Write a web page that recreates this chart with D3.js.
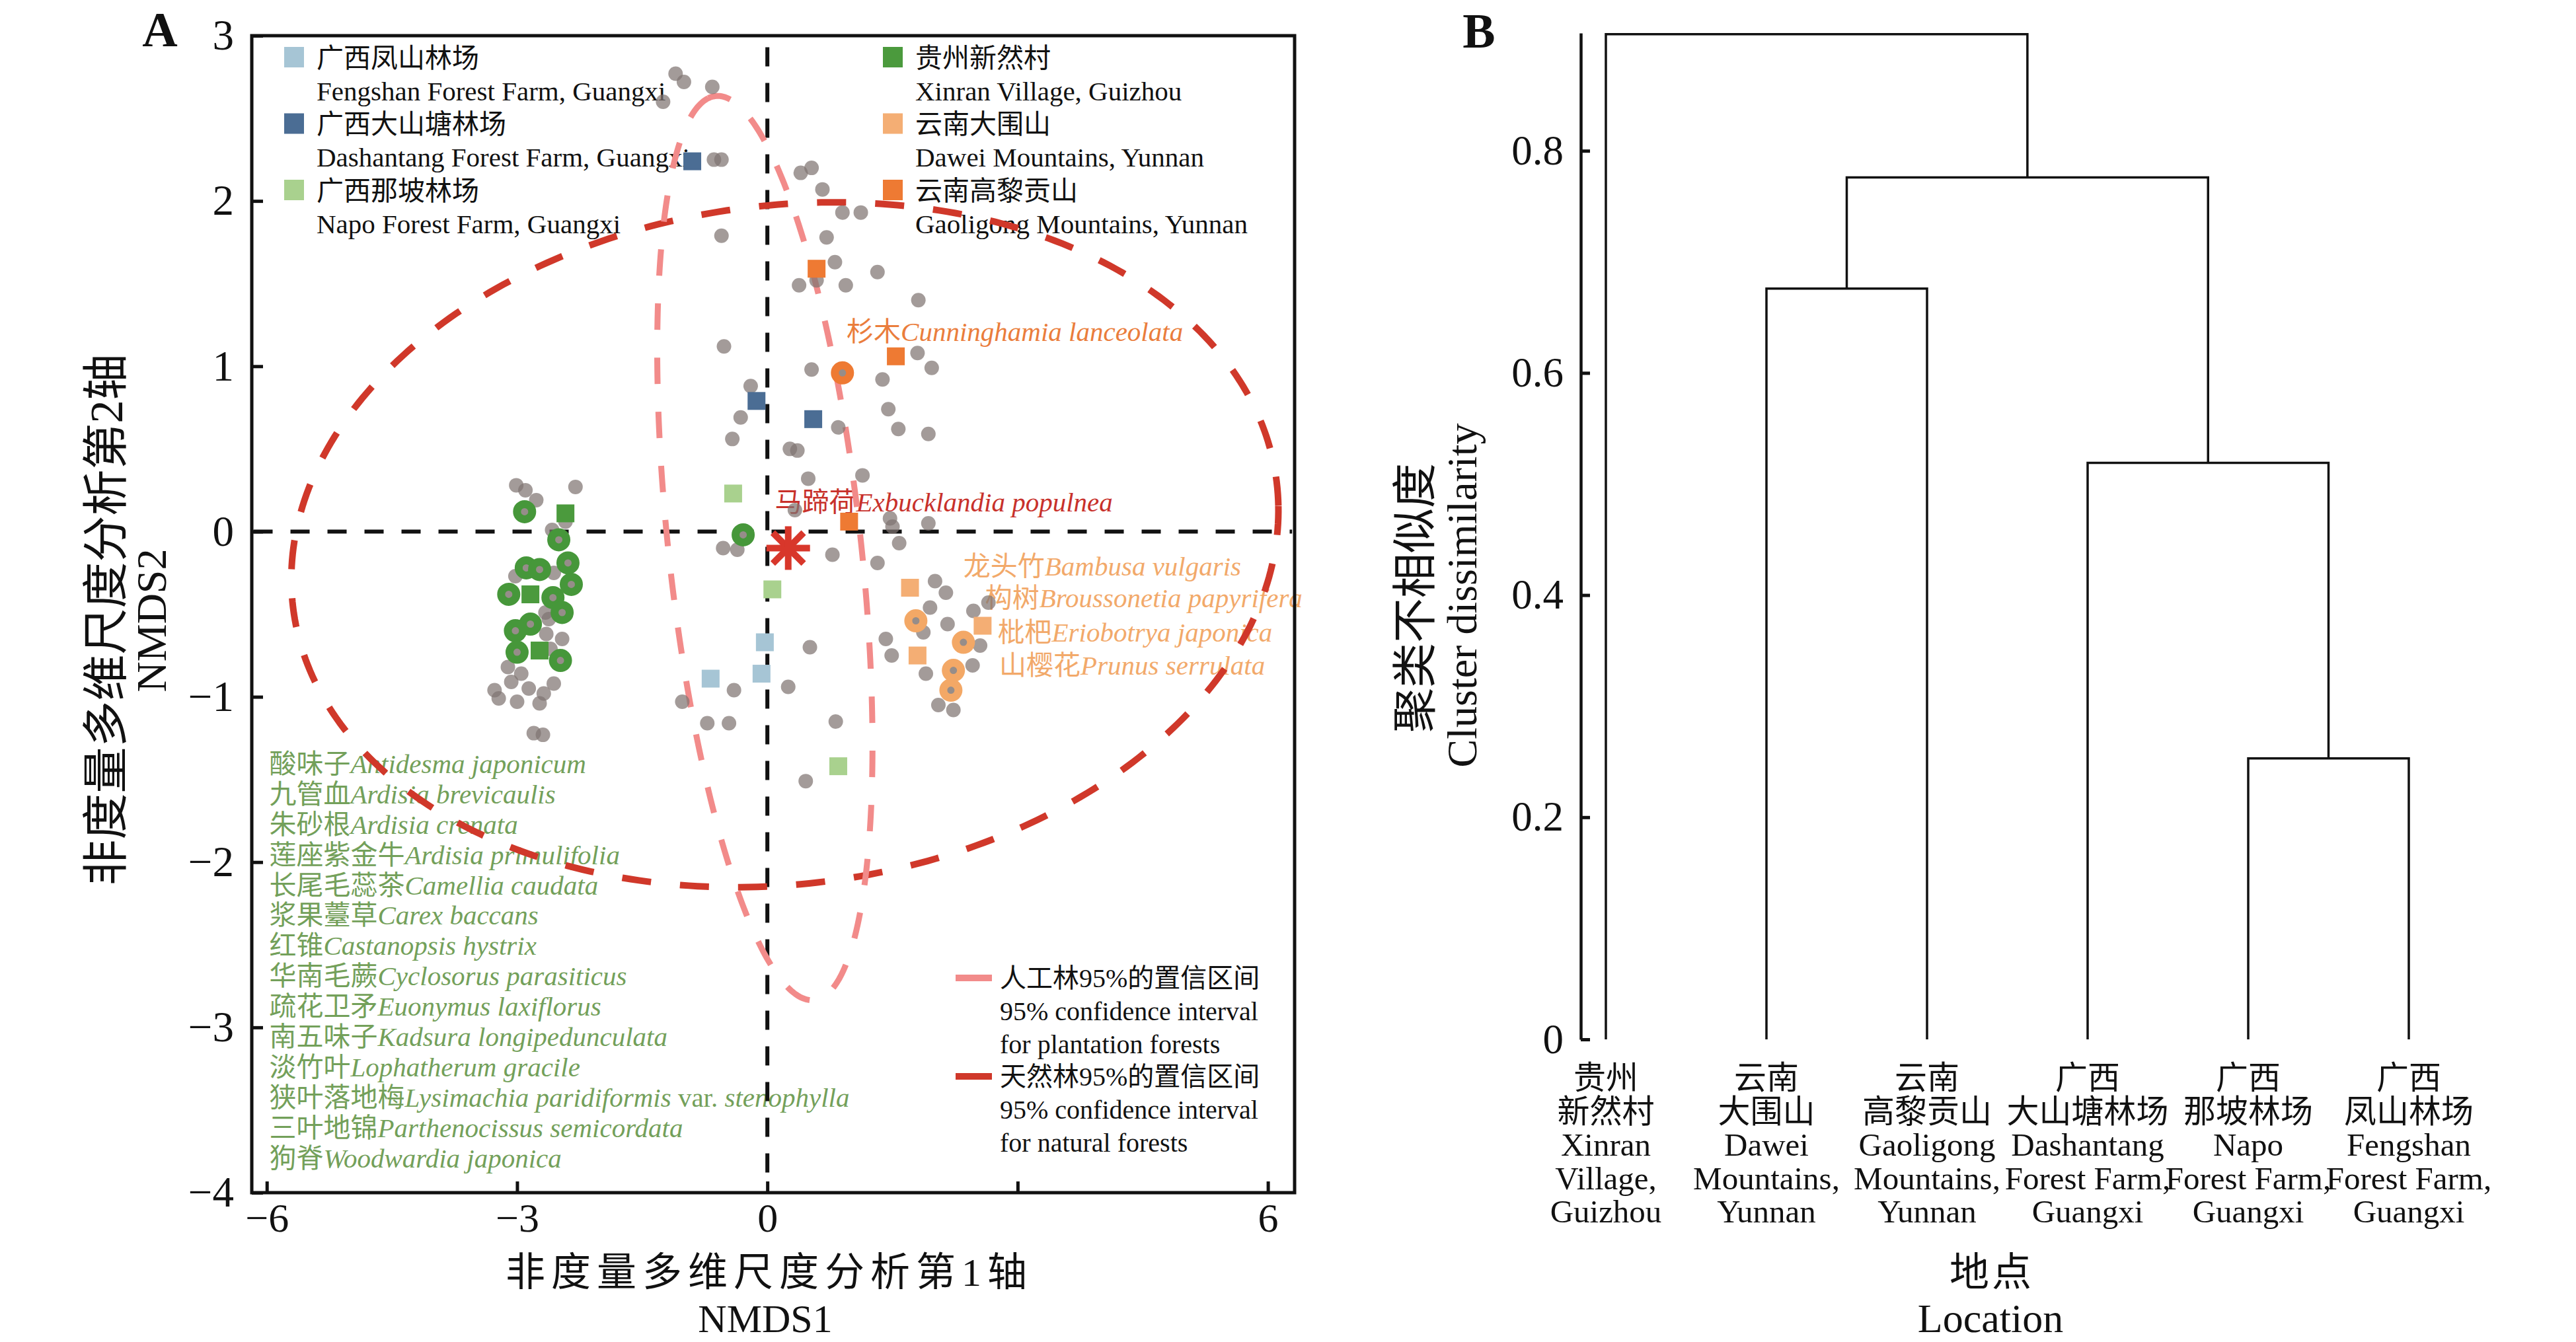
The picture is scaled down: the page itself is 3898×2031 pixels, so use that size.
<!DOCTYPE html>
<html lang="zh">
<head>
<meta charset="UTF-8">
<title>NMDS and cluster dendrogram</title>
<script src="https://cdn.jsdelivr.net/npm/d3@7/dist/d3.min.js"></script>
<style>
    body { margin: 0; padding: 0; background: #fff; }
    svg { display: block; }
    text { font-family: 'Liberation Serif', 'Times New Roman', 'Noto Sans CJK SC', serif; fill: #111; }
</style>
</head>
<body>
<script>
// ---------- data: panel A (NMDS) ----------
const sites = ["广西凤山林场", "广西大山塘林场", "广西那坡林场", "贵州新然村", "云南大围山", "云南高黎贡山"];
const sitesEn = ["Fengshan Forest Farm, Guangxi", "Dashantang Forest Farm, Guangxi", "Napo Forest Farm, Guangxi",
                 "Xinran Village, Guizhou", "Dawei Mountains, Yunnan", "Gaoligong Mountains, Yunnan"];
const siteColors = ["#a6c5d5", "#4b6d94", "#a9d18e", "#4b9a3d", "#f4ae74", "#ee7a33"];

// sample (site) scores, one list per site, same order as sites
const fengshanPts = [[-0.03, -0.67], [-0.07, -0.86], [-0.68, -0.89]];
const dashantangPts = [[-0.90, 2.24], [-0.13, 0.79], [0.55, 0.68]];
const napoPts = [[-0.41, 0.23], [0.06, -0.35], [0.85, -1.42]];
const xinranPts = [[-2.42, 0.11], [-2.84, -0.38], [-2.73, -0.72]];
const daweiPts = [[1.71, -0.34], [2.58, -0.57], [1.80, -0.75]];
const gaoligongPts = [[0.59, 1.59], [1.54, 1.06], [0.98, 0.06]];
const sitePts = [fengshanPts, dashantangPts, napoPts, xinranPts, daweiPts, gaoligongPts];

// species scores
const speciesPts = [
    [-3.01, 0.28], [-2.90, 0.25], [-2.77, 0.19], [-2.30, 0.27], [-2.42, 0.06], [-2.58, 0.01],
    [-3.02, -0.27], [-2.56, -0.25], [-2.66, -0.49], [-2.62, -0.53], [-2.65, -0.62], [-2.46, -0.65],
    [-2.60, -0.71], [-3.11, -0.82], [-2.95, -0.86], [-3.07, -0.91], [-3.27, -0.96], [-3.22, -1.01],
    [-3.00, -1.03], [-2.86, -0.95], [-2.56, -0.92], [-2.68, -0.98], [-2.73, -1.04], [-2.80, -1.22],
    [-2.69, -1.23],
    [-1.10, 2.77], [-1.00, 2.72], [-0.66, 2.69], [-1.25, 2.60], [-0.64, 2.25], [-0.55, 2.25],
    [0.40, 2.17], [0.53, 2.20], [0.66, 2.07], [0.90, 1.93], [1.12, 1.93], [-0.55, 1.79],
    [0.71, 1.78], [0.81, 1.63], [1.32, 1.57], [0.38, 1.49], [0.59, 1.52], [0.94, 1.49],
    [1.81, 1.40], [-0.52, 1.12], [0.53, 0.98], [1.38, 0.92], [1.80, 1.08], [1.97, 0.99],
    [-0.20, 0.88], [-0.32, 0.69], [1.45, 0.74], [0.85, 0.63], [1.57, 0.62], [1.93, 0.59],
    [-0.42, 0.56], [0.27, 0.50], [0.36, 0.49],
    [0.49, 0.32], [1.14, 0.34], [0.33, 0.13], [1.47, 0.08], [1.50, 0.03], [1.93, 0.05],
    [1.58, -0.07], [0.78, -0.14], [1.32, -0.19], [2.01, -0.30], [2.14, -0.37], [1.95, -0.46],
    [2.47, -0.48], [2.65, -0.43], [2.16, -0.56], [1.87, -0.61], [1.42, -0.65], [2.55, -0.69],
    [1.49, -0.75], [2.46, -0.81], [1.90, -0.86], [0.51, -0.70], [-0.40, -0.96], [0.25, -0.94],
    [2.05, -1.05], [2.23, -1.08], [0.82, -1.15], [-0.46, -1.16], [0.46, -1.51], [-0.53, -0.10],
    [-0.36, -0.11], [-1.02, -1.03], [-0.72, -1.16]
];
// indicator species (ringed)
const guizhouIndicators = [
    [-2.91, 0.12], [-2.50, -0.05], [-2.89, -0.22], [-2.73, -0.23], [-2.39, -0.19], [-2.35, -0.32],
    [-3.10, -0.38], [-2.57, -0.40], [-2.46, -0.49], [-2.84, -0.56], [-3.02, -0.60], [-3.00, -0.73],
    [-2.48, -0.78], [-0.29, -0.02]
];
const daweiIndicators = [[1.78, -0.54], [2.35, -0.67], [2.23, -0.84], [2.20, -0.96]];
const gaoligongIndicators = [[0.90, 0.96]];
const mixedIndicator = [[0.25, -0.10]];

// 95% confidence ellipses: centre, semi-axes, rotation (rad)
const plantationEllipse = { cx: -0.03, cy: -0.10, a: 2.805, b: 1.131, rot: 1.815 };
const naturalEllipse = { cx: 0.21, cy: -0.08, a: 5.92, b: 2.06, rot: 0.04 };

const guizhouSpecies = [
    ["酸味子", ["Antidesma japonicum"]],
    ["九管血", ["Ardisia brevicaulis"]],
    ["朱砂根", ["Ardisia crenata"]],
    ["莲座紫金牛", ["Ardisia primulifolia"]],
    ["长尾毛蕊茶", ["Camellia caudata"]],
    ["浆果薹草", ["Carex baccans"]],
    ["红锥", ["Castanopsis hystrix"]],
    ["华南毛蕨", ["Cyclosorus parasiticus"]],
    ["疏花卫矛", ["Euonymus laxiflorus"]],
    ["南五味子", ["Kadsura longipedunculata"]],
    ["淡竹叶", ["Lophatherum gracile"]],
    ["狭叶落地梅", ["Lysimachia paridiformis ", "var. ", "stenophylla"]],
    ["三叶地锦", ["Parthenocissus semicordata"]],
    ["狗脊", ["Woodwardia japonica"]]
];
const daweiSpecies = [
    ["龙头竹", ["Bambusa vulgaris"]],
    ["构树", ["Broussonetia papyrifera"]],
    ["枇杷", ["Eriobotrya japonica"]],
    ["山樱花", ["Prunus serrulata"]]
];
const xTicksA = [-6, -3, 0, 3, 6];
const xTickLabelsA = ["−6", "−3", "0", "", "6"];
const yTicksA = [-4, -3, -2, -1, 0, 1, 2, 3];

// ---------- data: panel B (dendrogram) ----------
const leafLabels = [
    ["贵州", "新然村", "Xinran", "Village,", "Guizhou"],
    ["云南", "大围山", "Dawei", "Mountains,", "Yunnan"],
    ["云南", "高黎贡山", "Gaoligong", "Mountains,", "Yunnan"],
    ["广西", "大山塘林场", "Dashantang", "Forest Farm,", "Guangxi"],
    ["广西", "那坡林场", "Napo", "Forest Farm,", "Guangxi"],
    ["广西", "凤山林场", "Fengshan", "Forest Farm,", "Guangxi"]
];
// hclust-style merge table (negative = leaf, positive = earlier merge)
const merges = [[-5, -6], [-4, 1], [-2, -3], [3, 2], [-1, 4]];
const mergeHeights = [0.253, 0.519, 0.676, 0.776, 0.905];
const yTicksB = [0, 0.2, 0.4, 0.6, 0.8];

// ---------- drawing ----------
const W = 3898, H = 2031;
const svg = d3.select("body").append("svg")
    .attr("width", W).attr("height", H).attr("viewBox", `0 0 ${W} ${H}`);

const x = d3.scaleLinear().domain([-6.18, 6.32]).range([381, 1959]);
const y = d3.scaleLinear().domain([-4, 3]).range([1805, 54]);

const gA = svg.append("g");

// site legend
const legendCols = [430, 1336];
sites.forEach((s, i) => {
    const col = Math.floor(i / 3), row = i % 3;
    const lx = legendCols[col], ly = 87 + row * 100.5;
    gA.append("rect").attr("x", lx).attr("y", ly - 16).attr("width", 30).attr("height", 31)
        .attr("fill", siteColors[i]);
    gA.append("text").attr("x", lx + 49).attr("y", ly).attr("dy", "0.36em")
        .style("font-size", "41px").text(s);
    gA.append("text").attr("x", lx + 49).attr("y", ly + 51).attr("dy", "0.34em")
        .style("font-size", "41px").text(sitesEn[i]);
});

// species annotation labels
function speciesLabel(g, zh, latin, px, py, color) {
    const t = g.append("text").attr("x", px).attr("y", py).attr("dy", "0.35em")
        .style("font-size", "41px").style("fill", color);
    t.append("tspan").text(zh).style("fill", color);
    latin.forEach(part => {
        t.append("tspan").text(part).style("fill", color)
            .style("font-style", part.trim() === "var." ? "normal" : "italic");
    });
}
guizhouSpecies.forEach((d, i) => {
    speciesLabel(gA, d[0], d[1], x(-5.97), y(-1.404 - i * 0.1835), "#73a05a");
});
const daweiLabelX = [2.35, 2.61, 2.76, 2.78];
const daweiLabelY = [-0.21, -0.40, -0.61, -0.81];
daweiSpecies.forEach((d, i) => {
    speciesLabel(gA, d[0], d[1], x(daweiLabelX[i]), y(daweiLabelY[i]), "#f2a96a");
});
speciesLabel(gA, "杉木", ["Cunninghamia lanceolata"], x(0.95), y(1.21), "#ea7d3c");
speciesLabel(gA, "马蹄荷", ["Exbucklandia populnea"], x(0.09), y(0.18), "#c8312b");

// zero reference lines
gA.append("line").attr("x1", x(0)).attr("x2", x(0)).attr("y1", y(2.93)).attr("y2", y(-3.93))
    .attr("stroke", "#111").attr("stroke-width", 6).attr("stroke-dasharray", "29,25");
gA.append("line").attr("x1", x(-6.16)).attr("x2", x(6.29)).attr("y1", y(0)).attr("y2", y(0))
    .attr("stroke", "#111").attr("stroke-width", 6).attr("stroke-dasharray", "29,27");

// ellipses
function ellipsePoints(e) {
    const pts = [];
    for (let i = 0; i <= 360; i++) {
        const t = i / 360 * 2 * Math.PI;
        const ex = e.a * Math.cos(t), ey = e.b * Math.sin(t);
        pts.push([e.cx + ex * Math.cos(e.rot) - ey * Math.sin(e.rot),
                  e.cy + ex * Math.sin(e.rot) + ey * Math.cos(e.rot)]);
    }
    return pts;
}
const eline = d3.line().x(d => x(d[0])).y(d => y(d[1]));
gA.append("path").attr("d", eline(ellipsePoints(naturalEllipse)))
    .attr("fill", "none").attr("stroke", "#d0382a").attr("stroke-width", 10)
    .attr("stroke-dasharray", "44,44");
gA.append("path").attr("d", eline(ellipsePoints(plantationEllipse)))
    .attr("fill", "none").attr("stroke", "#f28b8a").attr("stroke-width", 9)
    .attr("stroke-dasharray", "40,42");

// species points
gA.selectAll(".sp").data(speciesPts).enter().append("circle")
    .attr("class", "sp")
    .attr("cx", d => x(d[0])).attr("cy", d => y(d[1])).attr("r", 11)
    .attr("fill", "#7f7571").attr("opacity", 0.72);

// site squares
sitePts.forEach((pts, i) => {
    gA.selectAll(".sq" + i).data(pts).enter().append("rect")
        .attr("class", "sq" + i)
        .attr("x", d => x(d[0]) - 13.5).attr("y", d => y(d[1]) - 13.5)
        .attr("width", 27).attr("height", 27)
        .attr("fill", siteColors[i]);
});

// indicator rings
function rings(pts, color) {
    gA.selectAll(null).data(pts).enter().append("circle")
        .attr("cx", d => x(d[0])).attr("cy", d => y(d[1])).attr("r", 11.5)
        .attr("fill", "#968d89").attr("stroke", color).attr("stroke-width", 12);
}
rings(guizhouIndicators, "#46973a");
rings(daweiIndicators, "#f3a866");
rings(gaoligongIndicators, "#ee7a33");

// asterisk marker
mixedIndicator.forEach(d => {
    const cx = x(d[0]), cy = y(d[1]);
    [0, 45, 90, 135].forEach(a => {
        const r = 33, rad = a * Math.PI / 180;
        gA.append("line")
            .attr("x1", cx - r * Math.cos(rad)).attr("y1", cy - r * Math.sin(rad))
            .attr("x2", cx + r * Math.cos(rad)).attr("y2", cy + r * Math.sin(rad))
            .attr("stroke", "#d8372b").attr("stroke-width", 10);
    });
});

// ellipse legend
const ellLegend = [
    { color: "#f28b8a", lines: ["人工林95%的置信区间", "95% confidence interval", "for plantation forests"] },
    { color: "#d0382a", lines: ["天然林95%的置信区间", "95% confidence interval", "for natural forests"] }
];
ellLegend.forEach((e, i) => {
    const ly = 1480 + i * 149;
    gA.append("line").attr("x1", 1446).attr("x2", 1501).attr("y1", ly).attr("y2", ly)
        .attr("stroke", e.color).attr("stroke-width", 10);
    e.lines.forEach((t, j) => {
        gA.append("text").attr("x", 1513).attr("y", ly + j * 50).attr("dy", "0.35em")
            .style("font-size", "40px").text(t);
    });
});

// axes A
const axL = gA.append("g").attr("transform", `translate(${x.range()[0]},0)`)
    .call(d3.axisLeft(y).tickValues(yTicksA).tickSizeInner(-17).tickSizeOuter(0).tickPadding(27)
        .tickFormat(d => d < 0 ? "−" + Math.abs(d) : String(d)));
const axB = gA.append("g").attr("transform", `translate(0,${y.range()[0]})`)
    .call(d3.axisBottom(x).tickValues(xTicksA).tickSizeInner(-17).tickSizeOuter(0).tickPadding(15)
        .tickFormat((d, i) => xTickLabelsA[i]));
[axL, axB].forEach(a => {
    a.select(".domain").remove();
    a.selectAll(".tick line").attr("stroke", "#111").attr("stroke-width", 5);
    a.selectAll(".tick text").style("font-size", "65px")
        .style("font-family", "'Liberation Serif', serif").attr("fill", "#111");
});
axB.selectAll(".tick text").style("font-size", "62px");
gA.append("rect").attr("x", x.range()[0]).attr("y", y.range()[1])
    .attr("width", x.range()[1] - x.range()[0]).attr("height", y.range()[0] - y.range()[1])
    .attr("fill", "none").attr("stroke", "#111").attr("stroke-width", 5);

// titles A
gA.append("text").attr("x", 1164).attr("y", 1946).attr("text-anchor", "middle")
    .style("font-size", "60px").style("letter-spacing", "9px").text("非度量多维尺度分析第1轴");
gA.append("text").attr("x", 1158).attr("y", 2016).attr("text-anchor", "middle")
    .style("font-size", "60px").text("NMDS1");
gA.append("text").attr("transform", "translate(160,938) rotate(-90)").attr("dy", "0.35em")
    .attr("text-anchor", "middle").style("font-size", "70px").text("非度量多维尺度分析第2轴");
gA.append("text").attr("transform", "translate(229,939) rotate(-90)").attr("dy", "0.35em")
    .attr("text-anchor", "middle").style("font-size", "64px").text("NMDS2");
gA.append("text").attr("x", 242).attr("y", 70).attr("text-anchor", "middle")
    .style("font-size", "74px").style("font-weight", "bold").text("A");

// ---------- panel B ----------
const gB = svg.append("g");
const yB = d3.scaleLinear().domain([0, 0.906]).range([1573, 50]);
const xB = d3.scalePoint().domain(d3.range(leafLabels.length)).range([2430, 3645]);

const nodeX = [], nodeY = [];
function childPos(c) {
    return c < 0 ? [xB(-c - 1), 0] : [nodeX[c - 1], nodeY[c - 1]];
}
merges.forEach((m, k) => {
    const [x1, h1] = childPos(m[0]);
    const [x2, h2] = childPos(m[1]);
    const h = mergeHeights[k];
    nodeX.push((x1 + x2) / 2);
    nodeY.push(h);
    gB.append("path")
        .attr("d", `M${x1},${yB(h1)}V${yB(h)}H${x2}V${yB(h2)}`)
        .attr("fill", "none").attr("stroke", "#111").attr("stroke-width", 3.5);
});

const axDB = gB.append("g").attr("transform", "translate(2392,0)")
    .call(d3.axisLeft(yB).tickValues(yTicksB).tickSizeInner(-14).tickSizeOuter(0).tickPadding(26)
        .tickFormat(d => d === 0 ? "0" : d3.format(".1f")(d)));
axDB.select(".domain").attr("stroke", "#111").attr("stroke-width", 4.5);
axDB.selectAll(".tick line").attr("stroke", "#111").attr("stroke-width", 5);
axDB.selectAll(".tick text").style("font-size", "63px")
    .style("font-family", "'Liberation Serif', serif").attr("fill", "#111");

leafLabels.forEach((lines, i) => {
    lines.forEach((t, j) => {
        gB.append("text").attr("x", xB(i)).attr("y", 1631 + j * 50.5).attr("dy", "0.35em")
            .attr("text-anchor", "middle").style("font-size", "49px").text(t);
    });
});

gB.append("text").attr("x", 3014).attr("y", 1946).attr("text-anchor", "middle")
    .style("font-size", "60px").style("letter-spacing", "4px").text("地点");
gB.append("text").attr("x", 3012).attr("y", 2016).attr("text-anchor", "middle")
    .style("font-size", "62px").text("Location");
gB.append("text").attr("transform", "translate(2141,905) rotate(-90)").attr("dy", "0.35em")
    .attr("text-anchor", "middle").style("font-size", "68px").text("聚类不相似度");
gB.append("text").attr("transform", "translate(2212,901) rotate(-90)").attr("dy", "0.35em")
    .attr("text-anchor", "middle").style("font-size", "64px").text("Cluster dissimilarity");
gB.append("text").attr("x", 2238).attr("y", 72).attr("text-anchor", "middle")
    .style("font-size", "74px").style("font-weight", "bold").text("B");
</script>
</body>
</html>
